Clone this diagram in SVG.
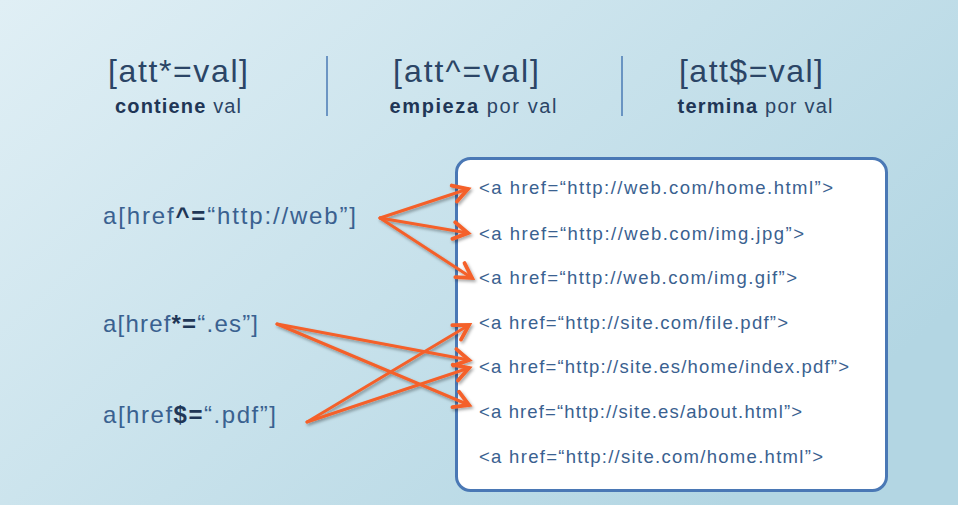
<svg xmlns="http://www.w3.org/2000/svg" width="958" height="505" viewBox="0 0 958 505">
<defs>
<linearGradient id="bg" x1="0" y1="0" x2="1" y2="0.6">
<stop offset="0" stop-color="#e0eff5"/>
<stop offset="1" stop-color="#b3d6e3"/>
</linearGradient>
<marker id="ah" markerUnits="userSpaceOnUse" markerWidth="24" markerHeight="24" viewBox="-14 -10 18 20" refX="0" refY="0" orient="auto">
<path d="M-12,-7 L0,0 L-12,7" fill="none" stroke="#f4612a" stroke-width="3.2" stroke-linejoin="miter" stroke-linecap="round"/>
</marker>
<filter id="sh" x="-10%" y="-10%" width="120%" height="130%">
<feDropShadow dx="1.5" dy="2" stdDeviation="1.5" flood-color="#000" flood-opacity="0.35"/>
</filter>
<style>
.t{font-family:"Liberation Sans",Arial,sans-serif;fill:#2b4566}
.h{font-size:32px}
.s{font-size:20px;fill:#2b4566}
.b{font-weight:bold;fill:#1f3656}
.l{font-size:24px;fill:#3a6190}
.r{font-size:18.5px;fill:#3a6190}
.c{stroke:#f4612a;stroke-width:3;fill:none;marker-end:url(#ah);stroke-linecap:round}
</style>
</defs>
<rect width="958" height="505" fill="url(#bg)"/>
<g id="header">
<text class="t h" x="178" y="82" text-anchor="middle" textLength="140">[att*=val]</text>
<text class="t s" x="178" y="113" text-anchor="middle" textLength="126"><tspan class="b">contiene</tspan> val</text>
<line x1="327" y1="56" x2="327" y2="116" stroke="#4a7ab5" stroke-width="1.5"/>
<text class="t h" x="466" y="82" text-anchor="middle" textLength="146">[att^=val]</text>
<text class="t s" x="473" y="113" text-anchor="middle" textLength="167"><tspan class="b">empieza</tspan> por val</text>
<line x1="622" y1="56" x2="622" y2="116" stroke="#4a7ab5" stroke-width="1.5"/>
<text class="t h" x="751" y="82" text-anchor="middle" textLength="144">[att$=val]</text>
<text class="t s" x="755" y="113" text-anchor="middle" textLength="155"><tspan class="b">termina</tspan> por val</text>
</g>
<g id="sel-web"><text class="t l" x="103" y="224" textLength="253">a[href<tspan class="b" fill="#1f3656">^=</tspan>“http://web”]</text></g>
<g id="sel-es"><text class="t l" x="103" y="332" textLength="155">a[href<tspan class="b" fill="#1f3656">*=</tspan>“.es”]</text></g>
<g id="sel-pdf"><text class="t l" x="103" y="423" textLength="173">a[href<tspan class="b" fill="#1f3656">$=</tspan>“.pdf”]</text></g>
<g id="links">
<rect x="456.5" y="158.5" width="430" height="332" rx="14" fill="#fff" stroke="#4a78b5" stroke-width="3"/>
<text class="t r" x="479" y="194" textLength="354">&lt;a href=“http://web.com/home.html”&gt;</text>
<text class="t r" x="479" y="240" textLength="325">&lt;a href=“http://web.com/img.jpg”&gt;</text>
<text class="t r" x="479" y="284" textLength="318">&lt;a href=“http://web.com/img.gif”&gt;</text>
<text class="t r" x="479" y="329" textLength="309">&lt;a href=“http://site.com/file.pdf”&gt;</text>
<text class="t r" x="479" y="373" textLength="370">&lt;a href=“http://site.es/home/index.pdf”&gt;</text>
<text class="t r" x="479" y="418" textLength="323">&lt;a href=“http://site.es/about.html”&gt;</text>
<text class="t r" x="479" y="463" textLength="344">&lt;a href=“http://site.com/home.html”&gt;</text>
</g>
<g id="connectors" filter="url(#sh)">
<line class="c" x1="380" y1="218" x2="468" y2="189"/>
<line class="c" x1="380" y1="218" x2="468" y2="233"/>
<line class="c" x1="380" y1="218" x2="472" y2="278"/>
<line class="c" x1="277" y1="324" x2="469" y2="360"/>
<line class="c" x1="277" y1="324" x2="469" y2="405"/>
<line class="c" x1="307" y1="422" x2="469" y2="325"/>
<line class="c" x1="307" y1="422" x2="469" y2="368"/>
</g>
</svg>
